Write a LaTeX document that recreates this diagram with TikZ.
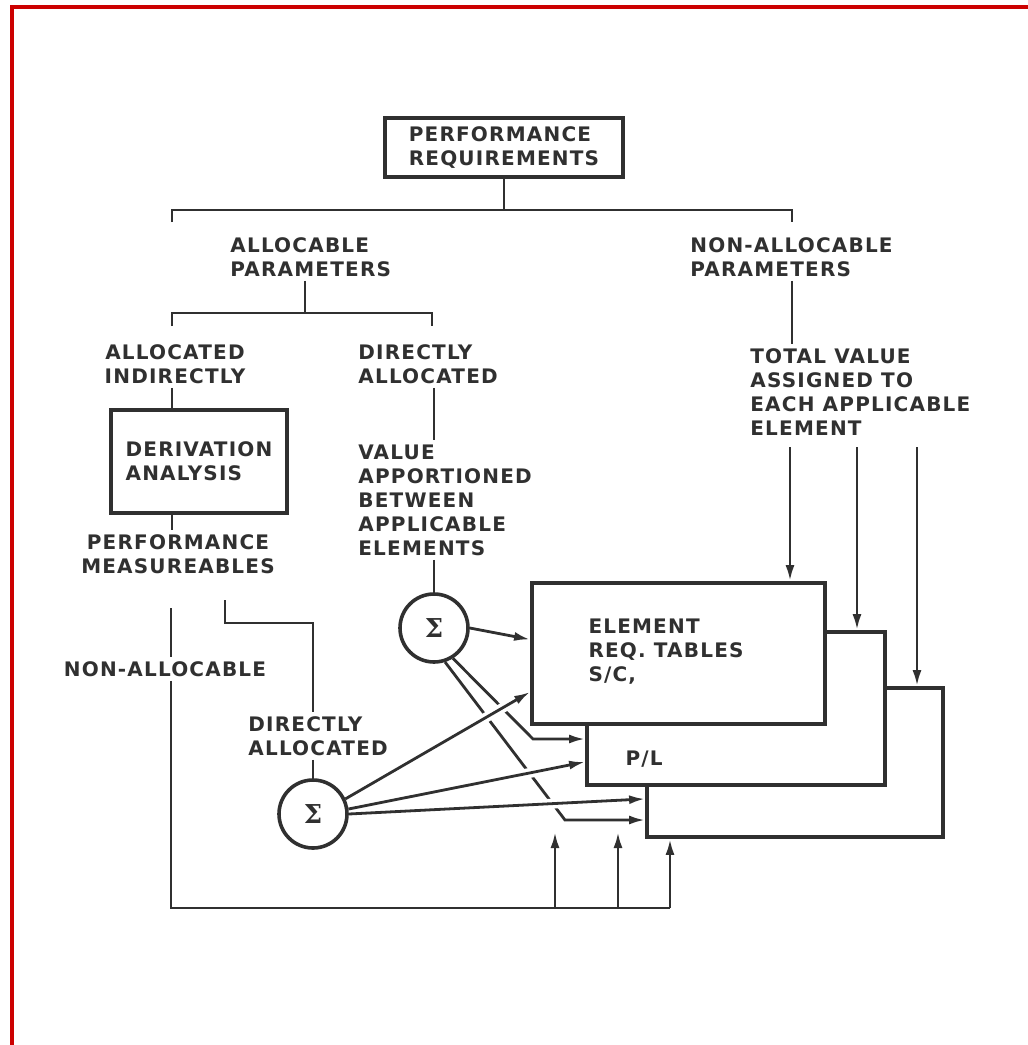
\documentclass[tikz,border=0pt]{standalone}
\usepackage{fontspec}
\setmainfont{DejaVu Sans}
\newfontfamily\tagfont[LetterSpace=6]{DejaVu Sans}
\newfontfamily\sumfont{DejaVu Serif}
\usepackage{tikz}
\usetikzlibrary{arrows.meta, positioning, calc}
\definecolor{inkDark}{RGB}{48,48,48}
\definecolor{frameRed}{RGB}{204,0,0}
\tikzset{
  tagText/.style={font=\tagfont\bfseries\fontsize{10}{12}\selectfont, text=inkDark, inner sep=2pt},
  reqBox/.style={tagText, draw=inkDark, line width=1.9pt, fill=white},
  sumNode/.style={circle, draw=inkDark, line width=1.8pt, fill=white, minimum size=34pt, inner sep=0pt,
    font=\sumfont\bfseries\fontsize{13}{15}\selectfont, text=inkDark},
  linkLine/.style={draw=inkDark, line width=1.4pt},
  linkFlow/.style={linkLine, -{Latex[length=8pt,width=4.5pt]}},
  crossFlow/.style={linkFlow, preaction={draw=white, arrows=-, line width=5pt, shorten <=45pt, shorten >=9pt}}
}

\begin{document}
\begin{tikzpicture}[x=0.5pt, y=-0.5pt]
  \path[use as bounding box, fill=white] (0,0) rectangle (1028,1045);
  \draw[frameRed, line width=2pt] (12,1045) -- (12,7) -- (1028,7);

  \node[reqBox, minimum width=119pt, minimum height=29.5pt, align=left] (perfReq) at (504,147.5) {PERFORMANCE\\REQUIREMENTS};
  \node[tagText, anchor=west, align=left] (allocPar) at (226,257) {ALLOCABLE\\PARAMETERS};
  \node[tagText, anchor=west, align=left] (nonAllocPar) at (686,257) {NON-ALLOCABLE\\PARAMETERS};
  \node[tagText, align=center] (allocInd) at (175,364) {ALLOCATED\\INDIRECTLY};
  \node[tagText, anchor=west, align=left] (dirAlloc) at (354,364) {DIRECTLY\\ALLOCATED};
  \node[reqBox, minimum width=88pt, minimum height=51.5pt, align=left] (derivBox) at (199,461.5) {DERIVATION\\ANALYSIS};
  \node[tagText, align=center] (perfMeas) at (178,554) {PERFORMANCE\\MEASUREABLES};
  \node[tagText, anchor=west, align=left] (valueApp) at (354,500) {VALUE\\APPORTIONED\\BETWEEN\\APPLICABLE\\ELEMENTS};
  \node[tagText, anchor=west, align=left] (totalVal) at (746,392) {TOTAL VALUE\\ASSIGNED TO\\EACH APPLICABLE\\ELEMENT};
  \node[tagText] (nonAllocTag) at (165,669) {NON-ALLOCABLE};
  \node[tagText, anchor=west, align=left] (dirAlloc2) at (244,736) {DIRECTLY\\ALLOCATED};
  \node[sumNode] (sumA) at (434,628) {Σ};
  \node[sumNode] (sumB) at (313,814) {Σ};

  % stacked tables, back to front
  \node[reqBox, minimum width=148pt, minimum height=74.5pt] (reqX) at (795,762.5) {};
  \node[reqBox, minimum width=149pt, minimum height=76.5pt] (reqP) at (736,708.5) {};
  \node[reqBox, minimum width=146.5pt, minimum height=70.5pt] (reqS) at (678.5,653.5) {};
  \node[tagText, anchor=west, align=left] (reqSText) at ([xshift=27pt, yshift=1pt]reqS.west) {ELEMENT\\REQ. TABLES\\S/C,};
  \node[tagText, anchor=west] (reqPText) at ([xshift=18pt, yshift=14pt]reqP.south west) {P/L};

  \coordinate (split1) at (504,210);
  \coordinate (tickA) at (172,222);
  \coordinate (tickB) at (792,222);
  \coordinate (split2) at (305,313);
  \coordinate (tickC) at (172,326);
  \coordinate (tickD) at (432,326);
  \coordinate (dropS) at (790,447);
  \coordinate (dropP) at (857,447);
  \coordinate (dropX) at (917,447);
  \coordinate (bendP) at (533,739);
  \coordinate (bendX) at (565,820);
  \coordinate (measTop) at (171,608);
  \coordinate (measOut) at (225,600);
  \coordinate (loopEnd) at (670,908);
  \coordinate (riseS) at (555,832);
  \coordinate (riseP) at (618,832);

  % tree
  \draw[linkLine] (perfReq.south) -- (split1);
  \draw[linkLine] (tickA) |- (split1) -| (tickB);
  \draw[linkLine] (allocPar.south -| split2) -- (split2);
  \draw[linkLine] (tickC) |- (split2) -| (tickD);
  \draw[linkLine] (allocInd.south -| tickC) -- (derivBox.north -| tickC);
  \draw[linkLine] (derivBox.south -| tickC) -- (perfMeas.north -| tickC);
  \draw[linkLine] (dirAlloc.south -| sumA) -- (valueApp.north -| sumA);
  \draw[linkLine] (valueApp.south -| sumA) -- (sumA.north);
  \draw[linkLine] (nonAllocPar.south -| tickB) -- (totalVal.north -| tickB);
  \foreach \src/\dst in {dropS/reqS, dropP/reqP, dropX/reqX}
    \draw[linkFlow] (\src) -- (\src |- \dst.north);

  % apportioned values
  \draw[linkFlow] (sumA.east) -- ([yshift=7pt]reqS.west);
  \draw[linkFlow] (sumA.-58) -- (bendP) -- (bendP -| reqP.west);
  \draw[linkFlow] (sumA.-72) -- (bendX) -- (bendX -| reqX.west);

  % derived measureables
  \draw[linkLine] (measOut) -- ++(0,23) -| (dirAlloc2.north -| sumB);
  \draw[linkLine] (dirAlloc2.south -| sumB) -- (sumB.north);
  \draw[crossFlow] (sumB.25) -- ([yshift=17pt]reqS.south west);
  \draw[crossFlow] (sumB.8) -- ([yshift=12.5pt]reqP.south west);
  \draw[crossFlow] (sumB.0) -- ([yshift=20pt]reqX.south west);

  \draw[linkLine] (measTop) -- (nonAllocTag.north -| measTop);
  \draw[linkLine] (nonAllocTag.south -| measTop) |- (loopEnd);
  \draw[linkFlow] (riseS |- loopEnd) -- (riseS);
  \draw[linkFlow] (riseP |- loopEnd) -- (riseP);
  \draw[linkFlow] (loopEnd) -- (loopEnd |- reqX.south);
\end{tikzpicture}
\end{document}
